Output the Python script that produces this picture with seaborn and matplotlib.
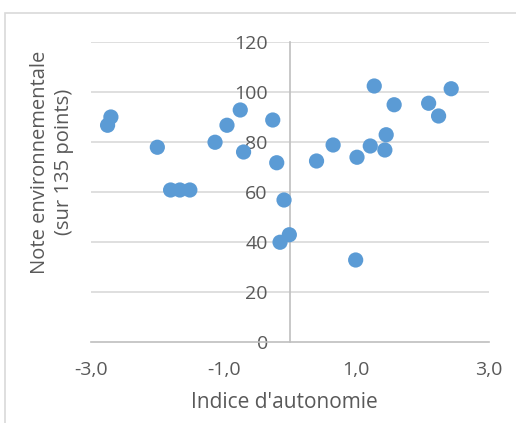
import numpy as np
import pandas as pd
import seaborn as sns
import matplotlib.pyplot as plt
from matplotlib.patches import Rectangle

# valeurs
indice_autonomie = [-2.75, -2.70, -2.00, -1.80, -1.66, -1.51, -1.13, -0.95, -0.75, -0.70,
                    -0.26, -0.20, -0.09, -0.15, -0.01, 0.99, 1.27, 2.43, 1.57, 2.09,
                    2.24, 1.45, 0.65, 1.21, 1.43, 1.01, 0.40]
note_env = [86.7, 90.0, 77.9, 60.8, 60.8, 60.8, 79.9, 86.7, 92.8, 76.0,
            88.8, 71.7, 56.8, 39.9, 42.9, 32.8, 102.4, 101.3, 94.9, 95.5,
            90.4, 82.9, 78.8, 78.4, 76.8, 73.9, 72.4]
x_ticks = [-3, -1, 1, 3]
x_tick_labels = ['-3,0', '-1,0', '1,0', '3,0']
y_ticks = [0, 20, 40, 60, 80, 100, 120]

df = pd.DataFrame({'x': indice_autonomie, 'y': note_env})

sns.set_style('white')
plt.rcParams['font.family'] = ['Open Sans', 'DejaVu Sans']

fig = plt.figure(figsize=(5.16, 4.23), dpi=100)
ax = fig.add_axes([91 / 516, 1 - 342 / 423, 398 / 516, 300 / 423])

# lignes de grille horizontales
for v in y_ticks[1:]:
    ax.axhline(v, color='#D9D9D9', lw=1.2, zorder=0)

sns.scatterplot(data=df, x='x', y='y', ax=ax, color='#5B9BD5', s=120,
                edgecolor='none', zorder=3, clip_on=False)

ax.set_xlim(-3, 3)
ax.set_ylim(0, 120)
ax.set_xticks(x_ticks)
ax.set_xticklabels(x_tick_labels)
ax.set_yticks(y_ticks)

for s in ['top', 'right']:
    ax.spines[s].set_visible(False)
ax.spines['left'].set_position(('data', 0))
ax.spines['left'].set_color('#BFBFBF')
ax.spines['bottom'].set_color('#BFBFBF')
ax.spines['left'].set_linewidth(1.2)
ax.spines['bottom'].set_linewidth(1.2)
ax.spines['left'].set_zorder(1)
ax.tick_params(axis='both', length=0, labelsize=14, labelcolor='#595959')
ax.tick_params(axis='y', pad=16)
ax.tick_params(axis='x', pad=14)

ax.set_xlabel('')
ax.set_ylabel('')
fig.text(284 / 516, 1 - 402 / 423, "Indice d'autonomie", ha='center', va='center',
         fontsize=15, color='#595959')
fig.text(52 / 516, 1 - 162 / 423, 'Note environnementale\n(sur 135 points)',
         ha='center', va='center', rotation=90, fontsize=14.5, color='#595959',
         linespacing=1.2, multialignment='center')

# bordure de la zone de graphique
fig.patches.append(Rectangle((5 / 516, -0.2), 1.2, 1.2 - 13 / 423,
                             transform=fig.transFigure, fill=False,
                             edgecolor='#D9D9D9', lw=1.2))

fig.savefig('out.png', dpi=100)
